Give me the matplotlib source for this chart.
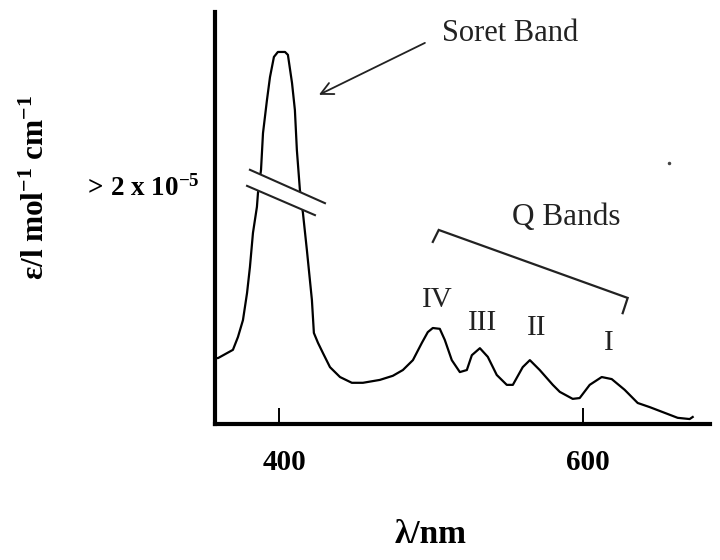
import matplotlib
matplotlib.use("Agg")
import matplotlib.pyplot as plt
from matplotlib.transforms import ScaledTranslation

plt.rcParams['font.family'] = ['Liberation Serif', 'DejaVu Serif']
plt.rcParams['mathtext.fontset'] = 'custom'
plt.rcParams['mathtext.rm'] = 'Liberation Serif'
plt.rcParams['mathtext.bf'] = 'Liberation Serif:bold'
plt.rcParams['mathtext.it'] = 'Liberation Serif:italic'

# ---- data ----
wavelength = [357.7, 359.7, 369.5, 372.8, 376.1, 378.8, 380.7, 382.7, 385.3, 386.0,
              388.0, 389.3, 391.9, 393.9, 396.5, 399.1, 403.8, 405.7, 408.4, 410.3,
              411.6, 413.6, 415.6, 418.2, 421.5, 422.8, 425.5, 428.8, 433.4, 440.0,
              447.8, 455.1, 466.2, 474.8, 481.4, 488.0, 493.9, 497.8, 501.1, 505.7,
              509.0, 513.6, 518.9, 523.5, 526.8, 532.1, 537.3, 543.2, 549.8, 553.8,
              560.3, 565.0, 571.5, 580.1, 584.7, 593.2, 597.8, 604.4, 612.3, 618.9,
              627.4, 636.0, 643.9, 652.4, 662.3, 670.2, 672.2]
absorbance = [0.160, 0.160, 0.180, 0.211, 0.252, 0.318, 0.381, 0.464, 0.527, 0.561,
              0.617, 0.706, 0.786, 0.842, 0.891, 0.903, 0.903, 0.896, 0.828, 0.762,
              0.665, 0.568, 0.512, 0.422, 0.301, 0.221, 0.197, 0.172, 0.138, 0.114,
              0.100, 0.100, 0.107, 0.117, 0.131, 0.155, 0.197, 0.223, 0.233, 0.231,
              0.204, 0.155, 0.126, 0.131, 0.167, 0.184, 0.163, 0.119, 0.095, 0.095,
              0.138, 0.155, 0.131, 0.095, 0.078, 0.061, 0.063, 0.095, 0.114, 0.109,
              0.083, 0.051, 0.041, 0.029, 0.015, 0.012, 0.017]

xticks = [400, 600]
xtick_labels = ['400', '600']
band_labels = ['IV', 'III', 'II', 'I']
band_label_pos = [(503.8, 0.301), (534.0, 0.245), (569.5, 0.233), (616.9, 0.197)]

fig = plt.figure(figsize=(7.2, 5.6), dpi=100)
ax = fig.add_axes([215/720, 136/560, 495/720, 412/560])

ax.plot(wavelength, absorbance, color='black', lw=1.6, zorder=2)

ax.set_xlim(357.7, 683.6)
ax.set_ylim(0, 1)

# spines
for s in ['top', 'right']:
    ax.spines[s].set_visible(False)
for s in ['left', 'bottom']:
    ax.spines[s].set_linewidth(3.0)

ax.set_yticks([])
ax.set_xticks(xticks)
ax.set_xticklabels(xtick_labels, fontsize=21, fontweight='bold')
ax.tick_params(axis='x', direction='in', length=11.5, width=1.4, pad=18)
off = ScaledTranslation(5/100, 0, fig.dpi_scale_trans)
for lab in ax.get_xticklabels():
    lab.set_transform(lab.get_transform() + off)

ax.set_xlabel('λ/nm', fontsize=24, fontweight='bold')
ax.xaxis.set_label_coords(0.436, -0.267)
ax.xaxis.label.set_va('center')

ax.set_ylabel(r'$\mathbf{ε/l\ mol^{-1}\ cm^{-1}}$', fontsize=22.5)
ax.yaxis.set_label_coords(-0.36, 0.575)
ax.yaxis.label.set_va('center')

ax.text(-0.030, 0.573, r'$\mathbf{>\,2\ x\ 10^{-5}}$', transform=ax.transAxes,
        ha='right', va='center', fontsize=19.5)

# axis break marks on the Soret peak
gap = plt.Polygon([(380.7, 0.617), (430.1, 0.536), (423.5, 0.507), (378.8, 0.578)],
                  closed=True, facecolor='white', edgecolor='none', zorder=3)
ax.add_patch(gap)
ax.plot([380.7, 430.1], [0.617, 0.536], color='#222222', lw=1.5, zorder=4)
ax.plot([378.8, 423.5], [0.578, 0.507], color='#222222', lw=1.5, zorder=4)

# Soret Band annotation
ax.annotate('', xy=(426.1, 0.799), xytext=(495.9, 0.925),
            arrowprops=dict(arrowstyle='->', color='#222222', lw=1.3,
                            mutation_scale=22, shrinkA=0, shrinkB=0))
ax.text(507.0, 0.949, 'Soret Band', fontsize=22, color='#222222',
        ha='left', va='center')

# Q Bands bracket and label
ax.plot([501.1, 505.0, 629.4, 626.1], [0.442, 0.471, 0.306, 0.269],
        color='#222222', lw=1.6, solid_joinstyle='miter')
ax.text(553.1, 0.502, 'Q Bands', fontsize=22.5, color='#222222',
        ha='left', va='center')

for lab, (x, y) in zip(band_labels, band_label_pos):
    ax.text(x, y, lab, fontsize=21, color='#222222', ha='center', va='center')

# small speck in the original
ax.plot([656.4], [0.633], marker='o', ms=1.5, color='#444444')

fig.savefig('out.png', dpi=100)
